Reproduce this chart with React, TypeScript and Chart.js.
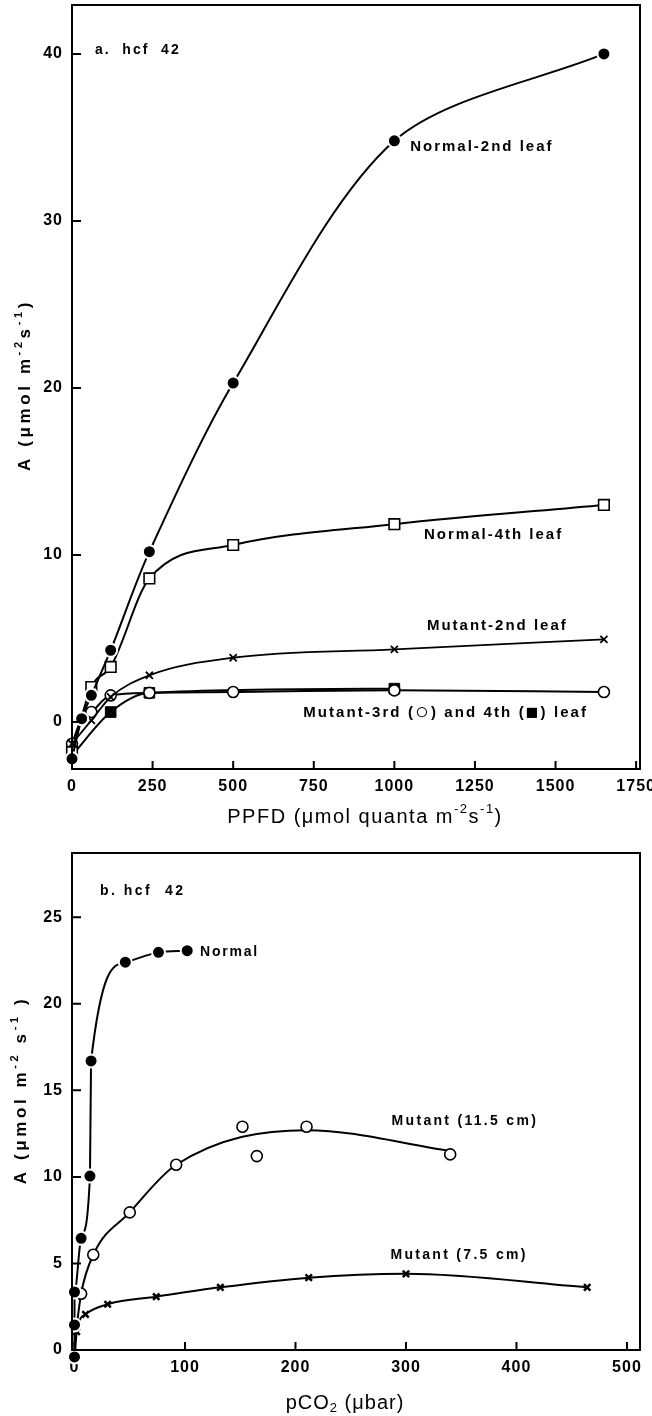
import React, { useEffect, useRef } from 'react';
import { Chart, registerables } from 'chart.js';
Chart.register(...registerables);

const FONT = '"Liberation Sans", Arial, Helvetica, sans-serif';

// ---------- Panel a: A vs PPFD ----------
const PPFD_TICKS = [0, 250, 500, 750, 1000, 1250, 1500, 1750];
const A_TICKS_A = [0, 10, 20, 30, 40];
const N2_X = [0, 30, 60, 120, 240, 500, 1000, 1650];
const N2_Y = [-2.2, 0.2, 1.6, 4.3, 10.2, 20.3, 34.8, 40.0];
const N4_X = [0, 60, 120, 240, 500, 1000, 1650];
const N4_Y = [-1.8, 2.1, 3.3, 8.6, 10.6, 11.85, 13.0];
const M2_X = [0, 60, 120, 240, 500, 1000, 1650];
const M2_Y = [-1.3, 0.1, 1.5, 2.8, 3.85, 4.35, 4.95];
const M3_X = [0, 30, 60, 120, 240, 500, 1000, 1650];
const M3_Y = [-1.3, 0.2, 0.6, 1.6, 1.75, 1.8, 1.9, 1.8];
const M4_X = [0, 120, 240, 1000];
const M4_Y = [-2.0, 0.6, 1.75, 2.0];

// ---------- Panel b: A vs pCO2 ----------
const PCO2_TICKS = [0, 100, 200, 300, 400, 500];
const A_TICKS_B = [0, 5, 10, 15, 20, 25];
const NB_X = [0, 0, 0, 6, 14, 15, 46, 76, 102];
const NB_Y = [-0.4, 1.45, 3.35, 6.45, 10.05, 16.7, 22.4, 22.97, 23.07];
const M115_X = [6, 17, 50, 92, 152, 165, 210, 340];
const M115_Y = [3.25, 5.5, 7.95, 10.7, 12.9, 11.2, 12.9, 11.3];
const M115_CURVE_X = [0, 6, 17, 50, 92, 210, 340];
const M115_CURVE_Y = [0.3, 3.25, 5.5, 7.95, 10.7, 12.7, 11.5];
const M75_X = [0, 2, 10, 30, 74, 132, 212, 300, 464];
const M75_Y = [-0.75, 1.06, 2.06, 2.64, 3.08, 3.62, 4.18, 4.4, 3.62];

type Seg = { t: string; sup?: boolean; sub?: boolean; k?: number };
type TextStyle = { size: number; weight: string; spacing: number; align: 'left' | 'center'; rotate?: boolean };

const pts = (xs: number[], ys: number[]) => xs.map((x, i) => ({ x, y: ys[i] }));

function drawRich(ctx: any, segs: Seg[], x: number, y: number, o: TextStyle) {
  ctx.save();
  ctx.fillStyle = '#000';
  ctx.textBaseline = 'middle';
  ctx.textAlign = 'left';
  ctx.letterSpacing = o.spacing + 'px';
  const sizeOf = (s: Seg) => (s.sup || s.sub ? Math.round(o.size * 0.65) : Math.round(o.size * (s.k || 1)));
  const fontFor = (s: Seg) => `${o.weight} ${sizeOf(s)}px ${FONT}`;
  const widths = segs.map((s) => {
    ctx.font = fontFor(s);
    return ctx.measureText(s.t).width;
  });
  const total = widths.reduce((a, b) => a + b, 0);
  ctx.translate(x, y);
  if (o.rotate) ctx.rotate(-Math.PI / 2);
  let cx = o.align === 'center' ? -total / 2 : 0;
  segs.forEach((s, i) => {
    ctx.font = fontFor(s);
    const dy = s.sup ? -o.size * 0.38 : s.sub ? o.size * 0.28 : 0;
    ctx.fillText(s.t, cx, dy);
    cx += widths[i];
  });
  ctx.restore();
}

type Note = { segs: Seg[]; x: number; y: number; size: number; spacing: number };
type Decor = {
  xTicks: number[];
  yTicks: number[];
  notes: Note[];
  xTitle: Seg[];
  xTitleDx: number;
  xTitleDy: number;
  xTitleSpacing: number;
  yTitle: Seg[];
  yTitleX: number;
  yTitleDy: number;
};

function makeDecor(cfg: Decor) {
  return {
    id: 'decor',
    beforeDraw(chart: any) {
      const ctx = chart.ctx;
      ctx.save();
      ctx.fillStyle = '#fff';
      ctx.fillRect(0, 0, chart.width, chart.height);
      ctx.restore();
      ctx.letterSpacing = '1px';
    },
    afterDraw(chart: any) {
      const { ctx, chartArea: a, scales } = chart;
      const xs = scales.x;
      const ys = scales.y;
      ctx.save();
      ctx.letterSpacing = '0px';
      ctx.strokeStyle = '#000';
      ctx.lineWidth = 2;
      ctx.strokeRect(a.left, a.top, a.right - a.left, a.bottom - a.top);
      ctx.beginPath();
      cfg.xTicks.forEach((v) => {
        const p = xs.getPixelForValue(v);
        if (p > a.left + 1 && p < a.right - 1) {
          ctx.moveTo(p, a.bottom);
          ctx.lineTo(p, a.bottom - 8);
        }
      });
      cfg.yTicks.forEach((v) => {
        const p = ys.getPixelForValue(v);
        if (p > a.top + 1 && p < a.bottom - 1) {
          ctx.moveTo(a.left, p);
          ctx.lineTo(a.left + 9, p);
        }
      });
      ctx.stroke();
      ctx.restore();
      cfg.notes.forEach((n) =>
        drawRich(ctx, n.segs, xs.getPixelForValue(n.x), ys.getPixelForValue(n.y), {
          size: n.size,
          weight: 'bold',
          spacing: n.spacing,
          align: 'left',
        })
      );
      drawRich(ctx, cfg.xTitle, (a.left + a.right) / 2 + cfg.xTitleDx, a.bottom + cfg.xTitleDy, {
        size: 20,
        weight: 'normal',
        spacing: cfg.xTitleSpacing,
        align: 'center',
      });
      drawRich(ctx, cfg.yTitle, cfg.yTitleX, (a.top + a.bottom) / 2 + cfg.yTitleDy, {
        size: 17,
        weight: 'bold',
        spacing: 3.6,
        align: 'center',
        rotate: true,
      });
    },
  };
}

const FILLED_CIRCLE = { pointStyle: 'circle', pointRadius: 6.5, pointBackgroundColor: '#000', pointBorderColor: '#fff', pointBorderWidth: 2 };
const OPEN_CIRCLE = { pointStyle: 'circle', pointRadius: 5.5, pointBackgroundColor: '#fff', pointBorderColor: '#000', pointBorderWidth: 1.6 };
const OPEN_SQUARE = { pointStyle: 'rect', pointRadius: 7.5, pointBackgroundColor: '#fff', pointBorderColor: '#000', pointBorderWidth: 1.6 };
const FILLED_SQUARE = { pointStyle: 'rect', pointRadius: 7.5, pointBackgroundColor: '#000', pointBorderColor: '#000', pointBorderWidth: 1 };
const CROSS_A = { pointStyle: 'crossRot', pointRadius: 5, pointBackgroundColor: '#000', pointBorderColor: '#000', pointBorderWidth: 1.8 };
const CROSS_B = { pointStyle: 'crossRot', pointRadius: 4.5, pointBackgroundColor: '#000', pointBorderColor: '#000', pointBorderWidth: 2.5 };

const LINE = { showLine: true, borderColor: '#000', borderWidth: 2, fill: false, clip: false, pointHoverRadius: 0 };

function tickFont() {
  return { family: FONT, size: 16, weight: 'bold' as const };
}

function scaleX(min: number, max: number, ticks: number[], h: number) {
  return {
    type: 'linear',
    min,
    max,
    grid: { display: false, drawTicks: false },
    border: { display: false },
    ticks: { autoSkip: false, maxRotation: 0, padding: 8, color: '#000', font: tickFont(), callback: (v: any) => String(v) },
    afterBuildTicks: (s: any) => {
      s.ticks = ticks.map((v) => ({ value: v }));
    },
    afterFit: (s: any) => {
      s.height = h;
      s.paddingLeft = 0;
      s.paddingRight = 0;
      s.paddingTop = 0;
      s.paddingBottom = 0;
    },
  };
}

function scaleY(min: number, max: number, ticks: number[]) {
  return {
    type: 'linear',
    min,
    max,
    grid: { display: false, drawTicks: false },
    border: { display: false },
    ticks: { autoSkip: false, padding: 9, color: '#000', font: tickFont(), callback: (v: any) => String(v) },
    afterBuildTicks: (s: any) => {
      s.ticks = ticks.map((v) => ({ value: v }));
    },
    afterFit: (s: any) => {
      s.width = 72;
      s.paddingLeft = 0;
      s.paddingRight = 0;
      s.paddingTop = 0;
      s.paddingBottom = 0;
    },
  };
}

const TOP_NOTES: Note[] = [
  { segs: [{ t: 'a.  hcf  42' }], x: 71, y: 40.2, size: 14, spacing: 2 },
  { segs: [{ t: 'Normal-2nd leaf' }], x: 1049, y: 34.45, size: 15, spacing: 2 },
  { segs: [{ t: 'Normal-4th leaf' }], x: 1092, y: 11.2, size: 15, spacing: 2 },
  { segs: [{ t: 'Mutant-2nd leaf' }], x: 1101, y: 5.77, size: 15, spacing: 2 },
  {
    segs: [
      { t: 'Mutant-3rd (' },
      { t: '○', k: 1.5 },
      { t: ') and 4th (' },
      { t: '■', k: 1.4 },
      { t: ') leaf' },
    ],
    x: 717,
    y: 0.56,
    size: 15,
    spacing: 2.1,
  },
];

const BOTTOM_NOTES: Note[] = [
  { segs: [{ t: 'b. hcf  42' }], x: 23, y: 26.5, size: 14, spacing: 2.5 },
  { segs: [{ t: 'Normal' }], x: 113.6, y: 23.0, size: 14, spacing: 1.8 },
  { segs: [{ t: 'Mutant (11.5 cm)' }], x: 287, y: 13.2, size: 14, spacing: 2.3 },
  { segs: [{ t: 'Mutant (7.5 cm)' }], x: 286, y: 5.5, size: 14, spacing: 2.3 },
];

function baseOptions(top: number) {
  return {
    animation: false,
    responsive: false,
    devicePixelRatio: 1,
    layout: { autoPadding: false, padding: { left: 0, right: 12, top, bottom: 0 } },
    plugins: { legend: { display: false }, tooltip: { enabled: false } },
    events: [],
  };
}

function topConfig(): any {
  return {
    type: 'scatter',
    data: {
      datasets: [
        { ...LINE, tension: 0.3, data: pts(N2_X, N2_Y), ...FILLED_CIRCLE, order: 2 },
        { ...LINE, cubicInterpolationMode: 'monotone', data: pts(N4_X, N4_Y), ...OPEN_SQUARE, order: 3 },
        { ...LINE, cubicInterpolationMode: 'monotone', data: pts(M2_X, M2_Y), ...CROSS_A, borderWidth: 1.8, order: 4 },
        { ...LINE, cubicInterpolationMode: 'monotone', data: pts(M3_X, M3_Y), ...OPEN_CIRCLE, order: 5 },
        { ...LINE, cubicInterpolationMode: 'monotone', data: pts(M4_X, M4_Y), ...FILLED_SQUARE, order: 6 },
      ],
    },
    options: {
      ...baseOptions(5),
      scales: {
        x: scaleX(0, 1762, PPFD_TICKS, 81),
        y: scaleY(-2.81, 42.93, A_TICKS_A),
      },
    },
    plugins: [
      makeDecor({
        xTicks: PPFD_TICKS,
        yTicks: A_TICKS_A,
        notes: TOP_NOTES,
        xTitle: [{ t: 'PPFD (μmol quanta m' }, { t: '-2', sup: true }, { t: 's' }, { t: '-1', sup: true }, { t: ')' }],
        xTitleDx: 9,
        xTitleDy: 48,
        xTitleSpacing: 1.5,
        yTitle: [{ t: 'A (μmol m' }, { t: '-2', sup: true }, { t: 's' }, { t: '-1', sup: true }, { t: ')' }],
        yTitleX: 25,
        yTitleDy: -2,
      }),
    ],
  };
}

function bottomConfig(): any {
  return {
    type: 'scatter',
    data: {
      datasets: [
        { ...LINE, cubicInterpolationMode: 'monotone', data: pts(NB_X, NB_Y), ...FILLED_CIRCLE, order: 1 },
        { ...LINE, showLine: false, data: pts(M115_X, M115_Y), ...OPEN_CIRCLE, order: 2 },
        { ...LINE, cubicInterpolationMode: 'monotone', data: pts(M115_CURVE_X, M115_CURVE_Y), pointRadius: 0, order: 3 },
        { ...LINE, cubicInterpolationMode: 'monotone', data: pts(M75_X, M75_Y), ...CROSS_B, order: 4 },
      ],
    },
    options: {
      ...baseOptions(3),
      scales: {
        x: scaleX(-2.26, 511.8, PCO2_TICKS, 66),
        y: scaleY(0, 28.71, A_TICKS_B),
      },
    },
    plugins: [
      makeDecor({
        xTicks: PCO2_TICKS,
        yTicks: A_TICKS_B,
        notes: BOTTOM_NOTES,
        xTitle: [{ t: 'pCO' }, { t: '2', sub: true }, { t: ' (μbar)' }],
        xTitleDx: -11,
        xTitleDy: 53,
        xTitleSpacing: 1,
        yTitle: [{ t: 'A (μmol m' }, { t: '-2', sup: true }, { t: ' s' }, { t: '-1', sup: true }, { t: ' )' }],
        yTitleX: 21,
        yTitleDy: -11.5,
      }),
    ],
  };
}

function Panel({ height, make }: { height: number; make: () => any }) {
  const ref = useRef<HTMLCanvasElement>(null);
  useEffect(() => {
    const chart = new Chart(ref.current as HTMLCanvasElement, make());
    return () => chart.destroy();
  }, []);
  return <canvas ref={ref} width={652} height={height} style={{ display: 'block', width: 652, height }} />;
}

export default function App() {
  return (
    <div style={{ position: 'absolute', left: 0, top: 0, width: 652, height: 1416, background: '#fff', overflow: 'hidden' }}>
      <Panel height={850} make={topConfig} />
      <Panel height={566} make={bottomConfig} />
    </div>
  );
}
